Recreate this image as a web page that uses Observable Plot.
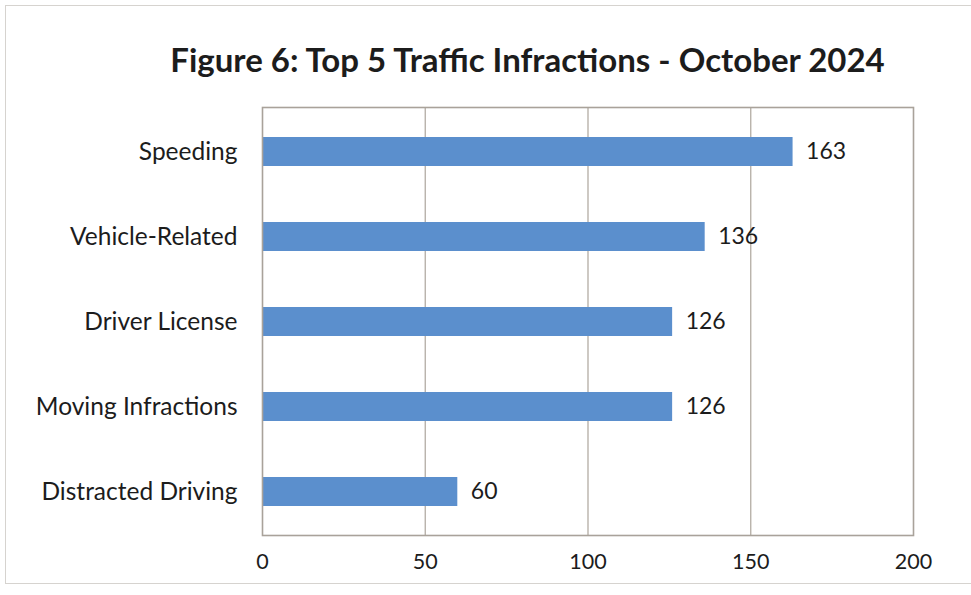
<!DOCTYPE html>
<html>
<head>
<meta charset="utf-8">
<script src="https://cdn.jsdelivr.net/npm/d3@7"></script>
<script src="https://cdn.jsdelivr.net/npm/@observablehq/plot@0.6"></script>
<style>
  html, body { margin: 0; padding: 0; background: #fff; }
  #wrap { position: relative; width: 971px; height: 595px; overflow: hidden; font-family: Lato, "Open Sans", sans-serif; }
  #border { position: absolute; left: 5px; top: 5px; width: 980px; height: 579px; border: 1px solid #d6d3cf; box-sizing: border-box; }
  #title { position: absolute; left: 0; top: 0; width: 971px; height: 92px; text-align: center; box-sizing: border-box; padding-left: 84px; padding-top: 39px; font-size: 33px; font-weight: bold; color: #1c1c1c; line-height: 40px; }
  #chart { position: absolute; left: 0; top: 92px; }
</style>
</head>
<body>
<div id="wrap">
  <div id="border"></div>
  <div id="title">Figure 6: Top 5 Traffic Infractions - October 2024</div>
  <div id="chart"></div>
</div>
<script>
const categories = ["Speeding", "Vehicle-Related", "Driver License", "Moving Infractions", "Distracted Driving"];
const counts = [163, 136, 126, 126, 60];
const xTicks = [0, 50, 100, 150, 200];
const gridTicks = [50, 100, 150];

const data = categories.map((c, i) => ({category: c, count: counts[i]}));

const plot = Plot.plot({
  width: 971,
  height: 503,
  marginTop: 15,
  marginBottom: 60,
  marginLeft: 262,
  marginRight: 58,
  style: {fontFamily: "Lato, 'Open Sans', sans-serif", color: "#1c1c1c", background: "transparent"},
  x: {domain: [0, 200], ticks: xTicks, label: null},
  y: {domain: categories, paddingInner: 0.66, paddingOuter: 0.33, label: null},
  marks: [
    Plot.ruleX(gridTicks, {stroke: "#b3aca4", strokeWidth: 1.3}),
    Plot.barX(data, {y: "category", x: "count", fill: "#5b8fcd"}),
    Plot.frame({stroke: "#a9a29a", strokeWidth: 1.6}),
    Plot.text(data, {y: "category", x: "count", text: d => String(d.count), dx: 13, textAnchor: "start", fontSize: 23, fill: "#1c1c1c"}),
    Plot.axisX({ticks: xTicks, tickSize: 0, tickPadding: 18, fontSize: 21.5, label: null, fill: "#1c1c1c"}),
    Plot.axisY({tickSize: 0, tickPadding: 25, fontSize: 24.5, label: null, fill: "#1c1c1c"})
  ]
});
document.getElementById("chart").appendChild(plot);
</script>
</body>
</html>
